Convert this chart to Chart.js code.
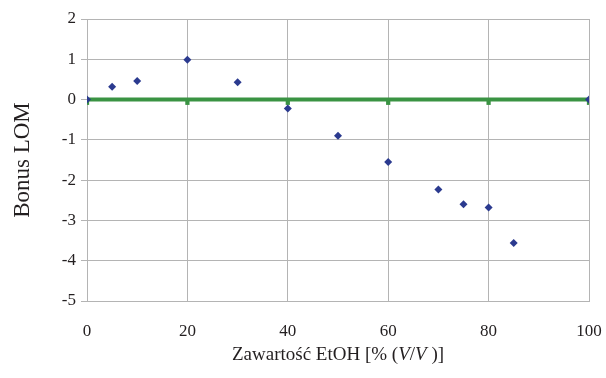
<!DOCTYPE html>
<html>
<head>
<meta charset="utf-8">
<script src="https://cdn.jsdelivr.net/npm/chart.js@4"></script>
<style>
  html, body { margin: 0; padding: 0; background: #fff; }
  #wrap { width: 606px; height: 378px; }
</style>
</head>
<body>
<div id="wrap"><canvas id="wykres" width="606" height="378"></canvas></div>
<script>
// zawartosc etanolu [% V/V] i bonus LOM
const etoh = [0, 5, 10, 20, 30, 40, 50, 60, 70, 75, 80, 85, 100];
const bonusLOM = [0, 0.32, 0.46, 0.99, 0.43, -0.22, -0.9, -1.55, -2.23, -2.6, -2.68, -3.56, 0];

// linia odniesienia (zero) z markerami co 20
const refX = [0, 20, 40, 60, 80, 100];
const refY = [0, 0, 0, 0, 0, 0];
const refMarkY = [-0.08, -0.08, -0.08, -0.08, -0.08, -0.08];

const xTicks = [0, 20, 40, 60, 80, 100];
const yMin = -5, yMax = 2;

const serif = '"Liberation Serif", "DejaVu Serif", serif';
const gridColor = '#b4b4b4';

// tytul osi X z kursywa w (V/V)
const xTitleParts = [
    { t: 'Zawartość EtOH [% (', i: false },
    { t: 'V', i: true },
    { t: '/', i: false },
    { t: 'V', i: true },
    { t: ' )]', i: false }
];

const xTitlePlugin = {
    id: 'xTitle',
    afterDraw(chart) {
        const ctx = chart.ctx;
        const area = chart.chartArea;
        const size = 19;
        ctx.save();
        ctx.fillStyle = '#231f20';
        ctx.textBaseline = 'middle';
        let total = 0;
        xTitleParts.forEach(p => {
            ctx.font = (p.i ? 'italic ' : '') + size + 'px ' + serif;
            total += ctx.measureText(p.t).width;
        });
        let x = (area.left + area.right) / 2 - total / 2;
        const y = 355;
        xTitleParts.forEach(p => {
            ctx.font = (p.i ? 'italic ' : '') + size + 'px ' + serif;
            ctx.textAlign = 'left';
            ctx.fillText(p.t, x, y);
            x += ctx.measureText(p.t).width;
        });
        ctx.restore();
    }
};

const ctx = document.getElementById('wykres').getContext('2d');
new Chart(ctx, {
    type: 'scatter',
    data: {
        datasets: [
            {
                label: 'ref',
                data: refX.map((x, i) => ({ x: x, y: refMarkY[i] })),
                showLine: false,
                pointStyle: 'rect',
                pointRadius: 3,
                backgroundColor: '#3a9343',
                borderColor: '#3a9343',
                borderWidth: 0,
                order: 3
            },
            {
                label: 'zero',
                data: refX.map((x, i) => ({ x: x, y: refY[i] })),
                showLine: true,
                borderColor: '#3a9343',
                borderWidth: 4,
                pointRadius: 0,
                order: 2
            },
            {
                label: 'Bonus LOM',
                data: etoh.map((x, i) => ({ x: x, y: bonusLOM[i] })),
                showLine: false,
                pointStyle: 'rectRot',
                pointRadius: 4,
                backgroundColor: '#2b3a8f',
                borderColor: '#2b3a8f',
                borderWidth: 0,
                order: 1
            }
        ]
    },
    options: {
        responsive: false,
        animation: false,
        devicePixelRatio: 1,
        layout: { padding: { top: 19, right: 17, left: 0, bottom: 0 } },
        plugins: {
            legend: { display: false },
            tooltip: { enabled: false }
        },
        scales: {
            x: {
                type: 'linear',
                min: 0,
                max: 100,
                afterBuildTicks: axis => { axis.ticks = xTicks.map(v => ({ value: v })); },
                afterFit: axis => {
                    axis.height = 77;
                    axis.paddingLeft = 0;
                    axis.paddingRight = 0;
                },
                grid: { color: gridColor, lineWidth: 1, drawTicks: false },
                border: { color: gridColor, width: 1 },
                ticks: {
                    padding: 20,
                    color: '#231f20',
                    font: { family: serif, size: 17 }
                }
            },
            y: {
                min: yMin,
                max: yMax,
                afterFit: axis => { axis.width = 87; },
                grid: { color: gridColor, lineWidth: 1, tickLength: 6 },
                border: { color: gridColor, width: 1 },
                ticks: {
                    stepSize: 1,
                    padding: 5,
                    color: '#231f20',
                    font: { family: serif, size: 17 }
                },
                title: {
                    display: true,
                    text: 'Bonus LOM',
                    color: '#231f20',
                    font: { family: serif, size: 23 },
                    padding: { top: 9, bottom: 0 }
                }
            }
        }
    },
    plugins: [xTitlePlugin]
});
</script>
</body>
</html>
